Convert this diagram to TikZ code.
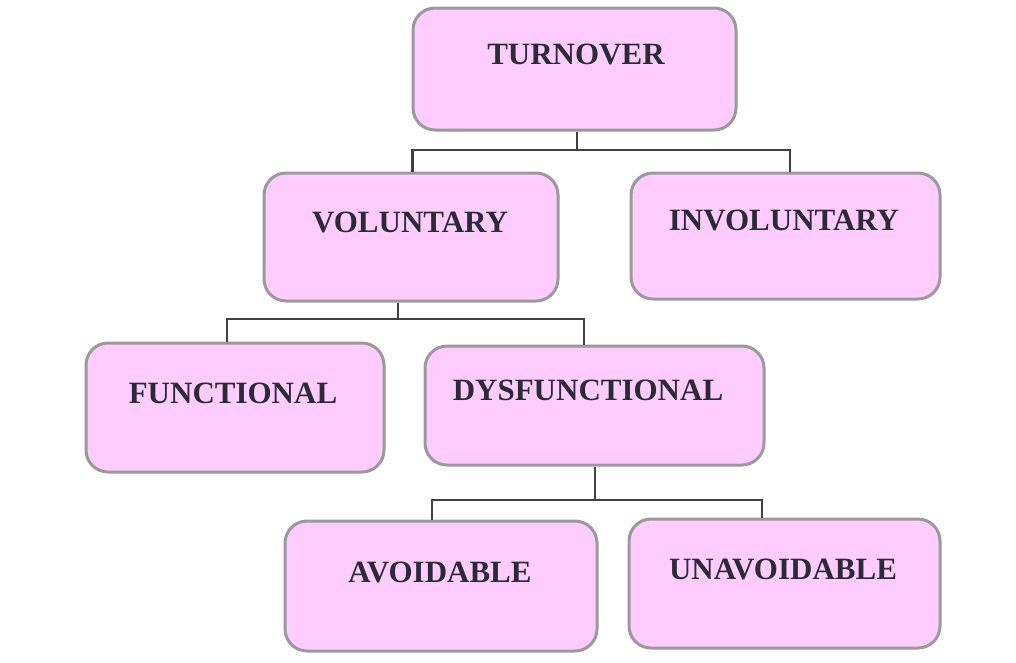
\documentclass[tikz,border=0pt]{standalone}
\usepackage{fontspec}
\setmainfont{Liberation Serif}
\definecolor{boxfill}{HTML}{FFCCFF}
\definecolor{boxline}{HTML}{9A9A9A}
\definecolor{connline}{HTML}{404040}
\definecolor{txt}{HTML}{2B2B38}
\begin{document}
\begin{tikzpicture}[x=1pt,y=-1pt,
  box/.style={draw=boxline, fill=boxfill, line width=3pt, rounded corners=22pt, inner sep=0pt},
  lbl/.style={text=txt, font=\fontsize{31}{35}\selectfont\bfseries, inner sep=0pt, anchor=center},
  conn/.style={draw=connline, line width=2.5pt}]
\useasboundingbox (0,0) rectangle (1016,662);
% boxes
\node[box, minimum width=323pt, minimum height=122pt] (t)  at (574.5,69) {};
\node[box, minimum width=294pt, minimum height=128pt] (v)  at (411,237) {};
\node[box, minimum width=309pt, minimum height=126pt] (iv) at (785.5,236) {};
\node[box, minimum width=298pt, minimum height=129pt] (f)  at (235,407.5) {};
\node[box, minimum width=339pt, minimum height=119pt] (d)  at (594.5,405.5) {};
\node[box, minimum width=312pt, minimum height=130pt] (a)  at (441,586) {};
\node[box, minimum width=311pt, minimum height=129pt] (u)  at (784.5,583.5) {};
% labels
\node[lbl] at (576,54) {TURNOVER};
\node[lbl] at (410,222) {VOLUNTARY};
\node[lbl] at (784,220) {INVOLUNTARY};
\node[lbl] at (233,393) {FUNCTIONAL};
\node[lbl] at (588,390) {DYSFUNCTIONAL};
\node[lbl] at (440,572) {AVOIDABLE};
\node[lbl] at (783,569) {UNAVOIDABLE};
% connectors
\coordinate (j1) at (577,150);
\coordinate (j2) at (398,319);
\coordinate (j3) at (595,500);
\draw[conn] (j1 |- t.south) -- (j1);
\draw[conn] ([xshift=1.5pt]v.north) |- (j1) -| ([xshift=4.5pt]iv.north);
\draw[conn] (j2 |- v.south) -- (j2);
\draw[conn] ([xshift=-8pt]f.north) |- (j2) -| ([xshift=-10.5pt]d.north);
\draw[conn] (j3 |- d.south) -- (j3);
\draw[conn] ([xshift=-9pt]a.north) |- (j3) -| ([xshift=-22.5pt]u.north);
\end{tikzpicture}
\end{document}
